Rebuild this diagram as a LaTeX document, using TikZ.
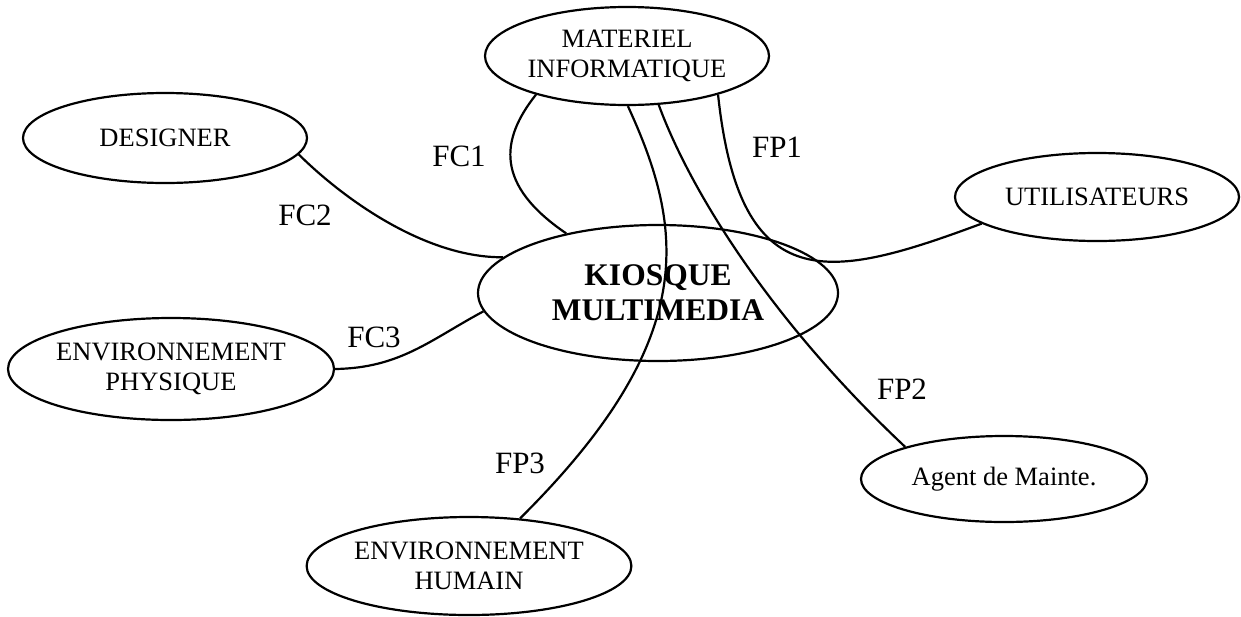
\documentclass[tikz,border=0pt]{standalone}
\usepackage{fontspec}
\setmainfont{Liberation Serif}
\usepackage{tikz}
\usetikzlibrary{shapes.geometric}
\tikzset{%
  actor/.style={%
    draw, shape=ellipse, line width=1.1pt, inner sep=0pt,
    align=center, font=\fontsize{13.25}{14.75}\selectfont
  },
  core/.style={%
    actor, font=\fontsize{15.75}{17.5}\selectfont\bfseries
  },
  func/.style={%
    font=\fontsize{15.5}{17}\selectfont
  },
  link/.style={line width=1.1pt},
}

\begin{document}
\begin{tikzpicture}[x=0.5pt, y=-0.5pt]
        \useasboundingbox (0,0) rectangle (1241,616);

        \node (MATERIEL)[actor, minimum width=142pt, minimum height=49pt] at (627,56) {MATERIEL\\INFORMATIQUE};
        \node (DESIGNER)[actor, minimum width=142pt, minimum height=45pt] at (165,138) {DESIGNER};
        \node (UTILISATEURS)[actor, minimum width=142pt, minimum height=44pt] at (1097,197) {UTILISATEURS};
        \node (KIOSQUE)[core, minimum width=180pt, minimum height=68pt] at (658,293) {KIOSQUE\\MULTIMEDIA};
        \node (PHYSIQUE)[actor, minimum width=163pt, minimum height=51pt] at (171,369) {ENVIRONNEMENT\\PHYSIQUE};
        \node (AGENT)[actor, minimum width=143pt, minimum height=43pt] at (1004,479) {Agent de Mainte.};
        \node (HUMAIN)[actor, minimum width=161pt, minimum height=49pt] at (469,566) {ENVIRONNEMENT\\HUMAIN};

        \node (FC1)[func] at (459,156) {FC1};
        \node (FC2)[func] at (305,215) {FC2};
        \node (FC3)[func] at (374,337) {FC3};
        \node (FP1)[func] at (777,147) {FP1};
        \node (FP2)[func] at (902,389) {FP2};
        \node (FP3)[func] at (520,463) {FP3};

        \draw[link] (MATERIEL.203) .. controls (500,140) and (495,185) .. (KIOSQUE.147);
        \draw[link] (DESIGNER.353) .. controls (350,205) and (430,258) .. (KIOSQUE.167);
        \draw[link] (PHYSIQUE.0) .. controls (400,368) and (430,340) .. (KIOSQUE.186);
        \draw[link] (MATERIEL.337) .. controls (740,300) and (830,280) .. (UTILISATEURS.193);
        \draw[link] (MATERIEL.303) .. controls (690,190) and (770,320) .. (AGENT.162);
        \draw[link] (MATERIEL.271) .. controls (685,230) and (700,340) .. (HUMAIN.43);
    \end{tikzpicture}
\end{document}
